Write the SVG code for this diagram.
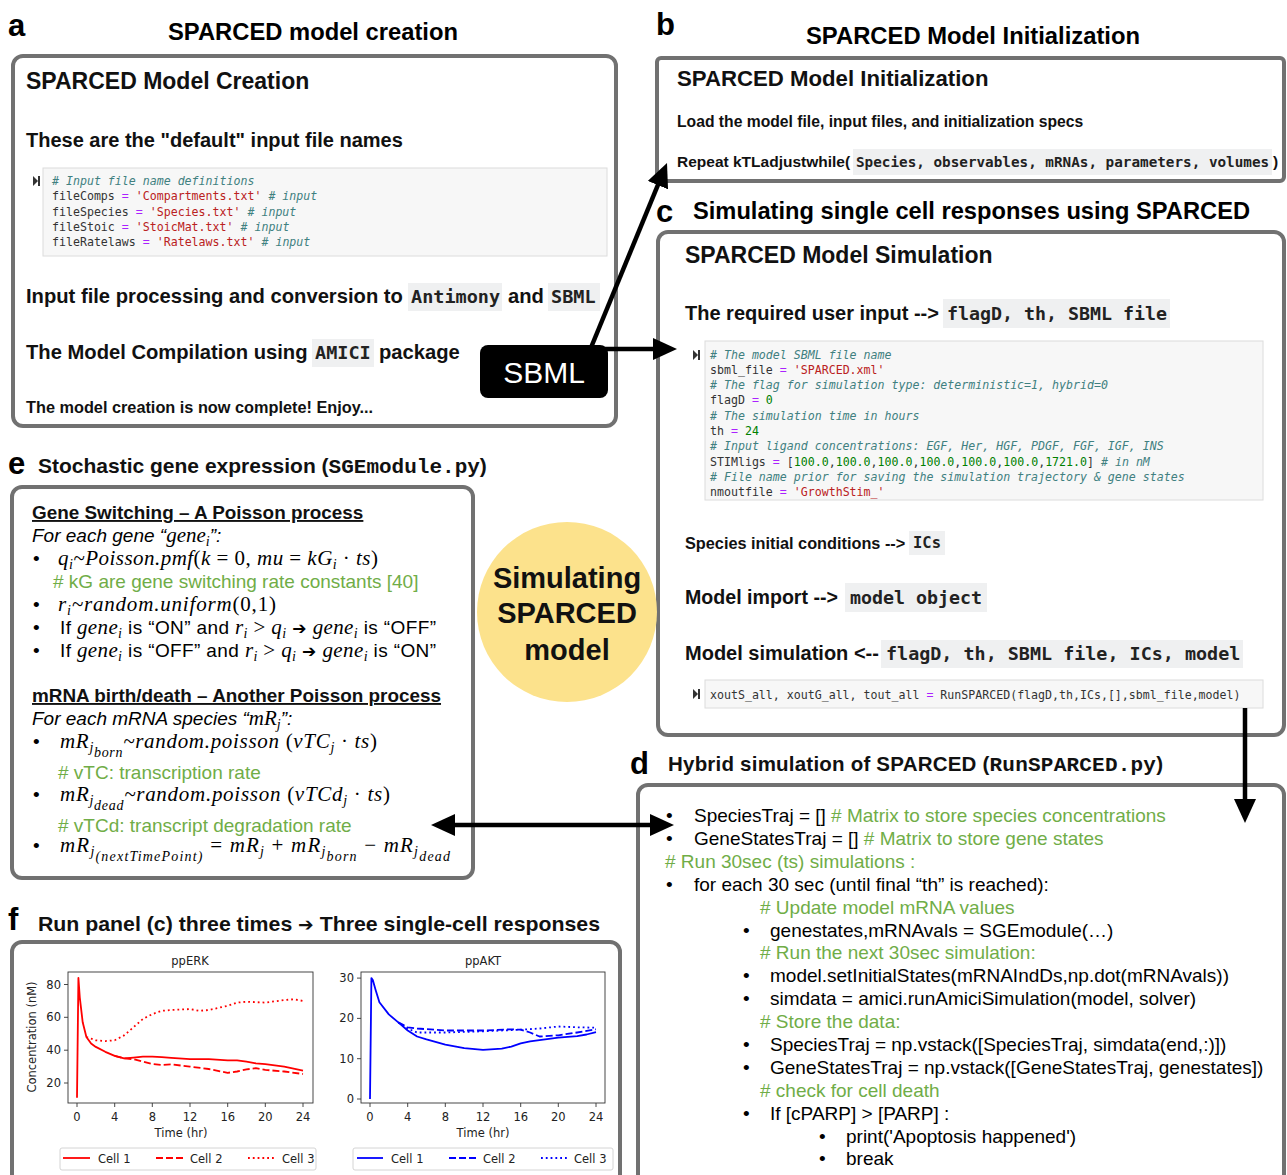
<svg xmlns="http://www.w3.org/2000/svg" width="1287" height="1175" viewBox="0 0 1287 1175">
<style>
.panel{fill:#fff;stroke:#717171;stroke-width:4}
.lbl{font-family:"Liberation Sans",Arial,sans-serif;font-weight:bold;font-size:31px;fill:#000}
.ttl{font-family:"Liberation Sans",Arial,sans-serif;font-weight:bold;font-size:23.3px;fill:#000}
.h{font-family:"Liberation Sans",Arial,sans-serif;font-weight:bold;fill:#111}
.t{font-family:"Liberation Sans",Arial,sans-serif;font-size:19px;fill:#000}
.g{fill:#70AD47}
.ic{fill:#eff0f1}
.im{font-family:"DejaVu Sans Mono","Liberation Mono",monospace;font-weight:bold;fill:#222}
.mono2{font-family:"Liberation Mono","Courier New",monospace;font-weight:bold}
.cb{fill:#f7f7f7;stroke:#dcdcdc;stroke-width:1}
.code{font-family:"DejaVu Sans Mono","Liberation Mono",monospace;fill:#333;font-size:11.6px}
.cm{fill:#408080;font-style:italic}
.op{fill:#AA22FF}
.st{fill:#BA2121}
.nu{fill:#008000}
.m{font-family:"Liberation Serif","Times New Roman",serif;font-style:italic;font-size:21px}
.up{font-style:normal}
.sub{font-size:14px}
.arr{font-family:"DejaVu Sans",sans-serif;font-style:normal;font-size:17px}
.ax{fill:none;stroke:#333;stroke-width:0.9}
.tk{font-family:"DejaVu Sans",sans-serif;font-size:11.5px;fill:#222}
.leg{fill:#fff;stroke:#cfcfcf;stroke-width:0.9}
.conn{stroke:#000;stroke-width:4.5;fill:none}
</style>
<defs>
<marker id="ah" viewBox="0 0 24 22" markerWidth="24" markerHeight="22" refX="14" refY="11" markerUnits="userSpaceOnUse" orient="auto-start-reverse">
<path d="M0,0 L24,11 L0,22 Z" fill="#000"/>
</marker>
<g id="runicon"><path d="M0,0 L5,5 L0,10 Z" fill="#333"/><rect x="5" y="0" width="2" height="10" fill="#333"/></g>
</defs>
<rect width="1287" height="1175" fill="#fff"/>

<!-- Panel a -->
<g id="panel-a">
<text class="lbl" x="8" y="36">a</text>
<text class="ttl" x="168" y="40" textLength="290" lengthAdjust="spacingAndGlyphs">SPARCED model creation</text>
<rect class="panel" x="13" y="56" width="603" height="370" rx="10"/>
<text class="h" x="26" y="89" font-size="23px">SPARCED Model Creation</text>
<text class="h" x="26" y="147" font-size="20px">These are the "default" input file names</text>
<rect class="cb" x="43" y="168" width="564" height="88"/>
<use href="#runicon" x="33" y="176"/>
<text class="code cm" x="52" y="185">#&#160;Input file name definitions</text>
<text class="code" x="52" y="200">fileComps <tspan class="op">=</tspan> <tspan class="st">'Compartments.txt'</tspan> <tspan class="cm"># input</tspan></text>
<text class="code" x="52" y="216">fileSpecies <tspan class="op">=</tspan> <tspan class="st">'Species.txt'</tspan> <tspan class="cm"># input</tspan></text>
<text class="code" x="52" y="231">fileStoic <tspan class="op">=</tspan> <tspan class="st">'StoicMat.txt'</tspan> <tspan class="cm"># input</tspan></text>
<text class="code" x="52" y="246">fileRatelaws <tspan class="op">=</tspan> <tspan class="st">'Ratelaws.txt'</tspan> <tspan class="cm"># input</tspan></text>
<text class="h" x="26" y="303" font-size="20.2px">Input file processing and conversion to</text>
<rect class="ic" x="408" y="283" width="94" height="28"/>
<text class="im" x="411" y="303" font-size="18.5px">Antimony</text>
<text class="h" x="508" y="303" font-size="20.2px">and</text>
<rect class="ic" x="548" y="283" width="52" height="28"/>
<text class="im" x="551" y="303" font-size="18.5px">SBML</text>
<text class="h" x="26" y="359" font-size="20.2px">The Model Compilation using</text>
<rect class="ic" x="312" y="339" width="62" height="28"/>
<text class="im" x="315" y="359" font-size="18.5px">AMICI</text>
<text class="h" x="379" y="359" font-size="20.2px">package</text>
<text class="h" x="26" y="413" font-size="16.3px">The model creation is now complete! Enjoy...</text>
</g>

<!-- Panel b -->
<g id="panel-b">
<text class="lbl" x="656" y="35">b</text>
<text class="ttl" x="806" y="44" textLength="334" lengthAdjust="spacingAndGlyphs">SPARCED Model Initialization</text>
<rect class="panel" x="657" y="58" width="627" height="123" rx="4"/>
<text class="h" x="677" y="86" font-size="22.2px">SPARCED Model Initialization</text>
<text class="h" x="677" y="127" font-size="15.7px">Load the model file, input files, and initialization specs</text>
<text class="h" x="677" y="167" font-size="15.5px">Repeat kTLadjustwhile(</text>
<rect class="ic" x="853" y="149" width="419" height="26"/>
<text class="im" x="856" y="167" font-size="14.3px">Species, observables, mRNAs, parameters, volumes</text>
<text class="h" x="1273" y="167" font-size="15.5px">)</text>
</g>

<!-- Panel c -->
<g id="panel-c">
<text class="lbl" x="656" y="222">c</text>
<text class="ttl" x="693" y="219" textLength="557" lengthAdjust="spacingAndGlyphs">Simulating single cell responses using SPARCED</text>
<rect class="panel" x="658" y="232" width="626" height="503" rx="10"/>
<text class="h" x="685" y="263" font-size="23px">SPARCED Model Simulation</text>
<text class="h" x="685" y="320" font-size="20px">The required user input --&gt;</text>
<rect class="ic" x="943" y="299" width="227" height="29"/>
<text class="im" x="947" y="320" font-size="18.3px">flagD, th, SBML file</text>
<rect class="cb" x="705" y="341" width="558" height="159"/>
<use href="#runicon" x="693" y="350"/>
<text class="code cm" x="710" y="359"># The model SBML file name</text>
<text class="code" x="710" y="374">sbml_file <tspan class="op">=</tspan> <tspan class="st">'SPARCED.xml'</tspan></text>
<text class="code cm" x="710" y="389"># The flag for simulation type: deterministic=1, hybrid=0</text>
<text class="code" x="710" y="404">flagD <tspan class="op">=</tspan> <tspan class="nu">0</tspan></text>
<text class="code cm" x="710" y="420"># The simulation time in hours</text>
<text class="code" x="710" y="435">th <tspan class="op">=</tspan> <tspan class="nu">24</tspan></text>
<text class="code cm" x="710" y="450"># Input ligand concentrations: EGF, Her, HGF, PDGF, FGF, IGF, INS</text>
<text class="code" x="710" y="466">STIMligs <tspan class="op">=</tspan> [<tspan class="nu">100.0</tspan>,<tspan class="nu">100.0</tspan>,<tspan class="nu">100.0</tspan>,<tspan class="nu">100.0</tspan>,<tspan class="nu">100.0</tspan>,<tspan class="nu">100.0</tspan>,<tspan class="nu">1721.0</tspan>] <tspan class="cm"># in nM</tspan></text>
<text class="code cm" x="710" y="481"># File name prior for saving the simulation trajectory &amp; gene states</text>
<text class="code" x="710" y="496">nmoutfile <tspan class="op">=</tspan> <tspan class="st">'GrowthStim_'</tspan></text>
<text class="h" x="685" y="549" font-size="16.3px">Species initial conditions --&gt;</text>
<rect class="ic" x="909" y="531" width="36" height="24"/>
<text class="im" x="913" y="548" font-size="15.5px">ICs</text>
<text class="h" x="685" y="604" font-size="19.6px">Model import --&gt;</text>
<rect class="ic" x="845" y="583" width="142" height="29"/>
<text class="im" x="850" y="604" font-size="18.3px">model object</text>
<text class="h" x="685" y="660" font-size="20px">Model simulation &lt;--</text>
<rect class="ic" x="881" y="640" width="362" height="28"/>
<text class="im" x="886" y="660" font-size="18.4px">flagD, th, SBML file, ICs, model</text>
<rect class="cb" x="705" y="680" width="558" height="28"/>
<use href="#runicon" x="693" y="689"/>
<text class="code" x="710" y="699">xoutS_all, xoutG_all, tout_all <tspan class="op">=</tspan> RunSPARCED(flagD,th,ICs,[],sbml_file,model)</text>
</g>

<!-- Panel d -->
<g id="panel-d">
<text class="lbl" x="630" y="774">d</text>
<text class="h" x="668" y="771" font-size="20.5px" textLength="495" lengthAdjust="spacing">Hybrid simulation of SPARCED (<tspan class="mono2" font-size="21px">RunSPARCED.py</tspan>)</text>
<rect class="panel" x="638" y="785" width="646" height="410" rx="10"/>
<g class="t">
<text x="666" y="822">•</text><text x="694" y="822">SpeciesTraj = [] <tspan class="g"># Matrix to store species concentrations</tspan></text>
<text x="666" y="845">•</text><text x="694" y="845">GeneStatesTraj = [] <tspan class="g"># Matrix to store gene states</tspan></text>
<text x="665" y="868" class="g"># Run 30sec (ts) simulations :</text>
<text x="666" y="891">•</text><text x="694" y="891">for each 30 sec (until final “th” is reached):</text>
<text x="760" y="914" class="g"># Update model mRNA values</text>
<text x="743" y="937">•</text><text x="770" y="937">genestates,mRNAvals = SGEmodule(…)</text>
<text x="760" y="959" class="g"># Run the next 30sec simulation:</text>
<text x="743" y="982">•</text><text x="770" y="982">model.setInitialStates(mRNAIndDs,np.dot(mRNAvals))</text>
<text x="743" y="1005">•</text><text x="770" y="1005">simdata = amici.runAmiciSimulation(model, solver)</text>
<text x="760" y="1028" class="g"># Store the data:</text>
<text x="743" y="1051">•</text><text x="770" y="1051">SpeciesTraj = np.vstack([SpeciesTraj, simdata(end,:)])</text>
<text x="743" y="1074">•</text><text x="770" y="1074">GeneStatesTraj = np.vstack([GeneStatesTraj, genestates])</text>
<text x="760" y="1097" class="g"># check for cell death</text>
<text x="743" y="1120">•</text><text x="770" y="1120">If [cPARP] &gt; [PARP] :</text>
<text x="819" y="1143">•</text><text x="846" y="1143">print('Apoptosis happened')</text>
<text x="819" y="1165">•</text><text x="846" y="1165">break</text>
</g>
</g>

<!-- Panel e -->
<g id="panel-e">
<text class="lbl" x="8" y="474">e</text>
<text class="h" x="38" y="473" font-size="21px">Stochastic gene expression (<tspan class="mono2" font-size="21px">SGEmodule.py</tspan>)</text>
<rect class="panel" x="12" y="487" width="461" height="391" rx="10"/>
<text class="h" x="32" y="519" font-size="18.9px" text-decoration="underline">Gene Switching – A Poisson process</text>
<text class="t" x="32" y="542" font-style="italic">For each gene “<tspan class="m">gene<tspan class="sub" dy="4">i</tspan></tspan><tspan dy="-4">”:</tspan></text>
<text class="t" x="33" y="565">•</text>
<text class="m" x="58" y="565" textLength="320" lengthAdjust="spacing">q<tspan class="sub" dy="4">i</tspan><tspan dy="-4">~Poisson.pmf</tspan><tspan class="up">(</tspan>k <tspan class="up">= 0, </tspan>mu <tspan class="up">= </tspan>kG<tspan class="sub" dy="4">i</tspan><tspan class="up" dy="-4"> · </tspan>ts<tspan class="up">)</tspan></text>
<text class="t g" x="53" y="588">#&#160;kG are gene switching rate constants [40]</text>
<text class="t" x="33" y="611">•</text>
<text class="m" x="58" y="611" textLength="218" lengthAdjust="spacing">r<tspan class="sub" dy="4">i</tspan><tspan dy="-4">~random.uniform</tspan><tspan class="up">(0,1)</tspan></text>
<text class="t" x="33" y="634">•</text>
<text class="t" x="60" y="634" textLength="376" lengthAdjust="spacing">If <tspan class="m">gene<tspan class="sub" dy="4">i</tspan></tspan><tspan dy="-4"> is “ON” and </tspan><tspan class="m">r<tspan class="sub" dy="4">i</tspan><tspan class="up" dy="-4"> &gt; </tspan>q<tspan class="sub" dy="4">i</tspan></tspan><tspan dy="-4" class="arr"> ➔ </tspan><tspan class="m">gene<tspan class="sub" dy="4">i</tspan></tspan><tspan dy="-4"> is “OFF”</tspan></text>
<text class="t" x="33" y="657">•</text>
<text class="t" x="60" y="657" textLength="376" lengthAdjust="spacing">If <tspan class="m">gene<tspan class="sub" dy="4">i</tspan></tspan><tspan dy="-4"> is “OFF” and </tspan><tspan class="m">r<tspan class="sub" dy="4">i</tspan><tspan class="up" dy="-4"> &gt; </tspan>q<tspan class="sub" dy="4">i</tspan></tspan><tspan dy="-4" class="arr"> ➔ </tspan><tspan class="m">gene<tspan class="sub" dy="4">i</tspan></tspan><tspan dy="-4"> is “ON”</tspan></text>
<text class="h" x="32" y="702" font-size="18.9px" text-decoration="underline">mRNA birth/death – Another Poisson process</text>
<text class="t" x="32" y="725" font-style="italic">For each mRNA species “<tspan class="m">mR<tspan class="sub" dy="4">j</tspan></tspan><tspan dy="-4">”:</tspan></text>
<text class="t" x="33" y="748">•</text>
<text class="m" x="60" y="748" textLength="317" lengthAdjust="spacing">mR<tspan class="sub" dy="4">j</tspan><tspan class="sub" dy="5">born</tspan><tspan dy="-9">~random.poisson </tspan><tspan class="up">(</tspan>vTC<tspan class="sub" dy="4">j</tspan><tspan class="up" dy="-4"> · </tspan>ts<tspan class="up">)</tspan></text>
<text class="t g" x="58" y="779">#&#160;vTC: transcription rate</text>
<text class="t" x="33" y="801">•</text>
<text class="m" x="60" y="801" textLength="330" lengthAdjust="spacing">mR<tspan class="sub" dy="4">j</tspan><tspan class="sub" dy="5">dead</tspan><tspan dy="-9">~random.poisson </tspan><tspan class="up">(</tspan>vTCd<tspan class="sub" dy="4">j</tspan><tspan class="up" dy="-4"> · </tspan>ts<tspan class="up">)</tspan></text>
<text class="t g" x="58" y="832">#&#160;vTCd: transcript degradation rate</text>
<text class="t" x="33" y="852">•</text>
<text class="m" x="60" y="852" textLength="390" lengthAdjust="spacing">mR<tspan class="sub" dy="4">j</tspan><tspan class="sub" dy="5">(nextTimePoint)</tspan><tspan class="up" dy="-9"> = </tspan>mR<tspan class="sub" dy="4">j</tspan><tspan class="up" dy="-4"> + </tspan>mR<tspan class="sub" dy="4">j</tspan><tspan class="sub" dy="5">born</tspan><tspan class="up" dy="-9"> − </tspan>mR<tspan class="sub" dy="4">j</tspan><tspan class="sub" dy="5">dead</tspan></text>
</g>

<!-- Center circle -->
<g id="sim-circle">
<circle cx="567" cy="612" r="90" fill="#FCE28C"/>
<text class="h" x="567" y="588" font-size="29px" text-anchor="middle">Simulating</text>
<text class="h" x="567" y="623" font-size="29px" text-anchor="middle">SPARCED</text>
<text class="h" x="567" y="660" font-size="29px" text-anchor="middle">model</text>
</g>

<!-- Panel f -->
<g id="panel-f">
<text class="lbl" x="8" y="930">f</text>
<text class="h" x="38" y="931" font-size="20.5px" textLength="562" lengthAdjust="spacingAndGlyphs">Run panel (c) three times <tspan font-family="DejaVu Sans,sans-serif" font-weight="normal" font-size="18px">➔</tspan> Three single-cell responses</text>
<rect class="panel" x="12" y="942" width="608" height="250" rx="10"/>
<!-- ppERK -->
<g id="plot-ppERK">
<text class="tk" x="190" y="965" text-anchor="middle" font-size="12.5px">ppERK</text>
<rect class="ax" x="68" y="972" width="245" height="131"/>
<g stroke="#333" stroke-width="0.9">
<line x1="77" y1="1103" x2="77" y2="1107"/><line x1="114.7" y1="1103" x2="114.7" y2="1107"/><line x1="152.3" y1="1103" x2="152.3" y2="1107"/><line x1="190" y1="1103" x2="190" y2="1107"/><line x1="227.7" y1="1103" x2="227.7" y2="1107"/><line x1="265.3" y1="1103" x2="265.3" y2="1107"/><line x1="303" y1="1103" x2="303" y2="1107"/>
<line x1="64" y1="984.5" x2="68" y2="984.5"/><line x1="64" y1="1017.3" x2="68" y2="1017.3"/><line x1="64" y1="1050.2" x2="68" y2="1050.2"/><line x1="64" y1="1083" x2="68" y2="1083"/>
</g>
<g class="tk" text-anchor="middle">
<text x="77" y="1121">0</text><text x="114.7" y="1121">4</text><text x="152.3" y="1121">8</text><text x="190" y="1121">12</text><text x="227.7" y="1121">16</text><text x="265.3" y="1121">20</text><text x="303" y="1121">24</text>
<text x="181" y="1137">Time (hr)</text>
</g>
<g class="tk" text-anchor="end">
<text x="61" y="988.5">80</text><text x="61" y="1021.3">60</text><text x="61" y="1054.2">40</text><text x="61" y="1087">20</text>
</g>
<text class="tk" transform="translate(36,1037) rotate(-90)" text-anchor="middle">Concentration (nM)</text>
<g fill="none" stroke="#ff0000" stroke-width="1.8" stroke-linejoin="round">
<polyline points="77,1097.8 78.4,977.9 79.8,997.6 82.7,1022.3 86.4,1037 91.1,1043.6 95.8,1046.9 105.3,1051.8 114.7,1055.9 124.1,1058.4 133.5,1057.6 142.9,1056.7 152.3,1056.7 161.8,1057.1 171.2,1057.9 190,1059.2 208.8,1059.2 227.7,1060.3 237.1,1060.3 246.5,1061.7 255.9,1063.3 265.3,1064.1 284.2,1066.6 303,1070.7"/>
<polyline stroke-dasharray="7,3" points="114.7,1055.9 124.1,1058.4 133.5,1059.2 142.9,1061.7 152.3,1064.1 161.8,1064.9 171.2,1064.4 190,1066.6 208.8,1069 227.7,1072.8 237.1,1071.5 246.5,1069.4 255.9,1068.2 265.3,1069.9 284.2,1071.5 303,1074"/>
<polyline stroke-dasharray="1.8,3" points="86.4,1037 91.1,1038.7 95.8,1040.3 105.3,1041.1 114.7,1040.3 124.1,1035.4 133.5,1027.2 142.9,1019 152.3,1014.1 161.8,1010.8 171.2,1010 190,1009.1 199.4,1010.8 208.8,1010 227.7,1005.8 237.1,1002.6 246.5,1001.7 265.3,1002.6 284.2,1000.1 293.6,999.3 303,1000.9"/>
</g>
<rect class="leg" x="60" y="1148" width="256" height="22" rx="2"/>
<g stroke="#ff0000" stroke-width="1.8">
<line x1="63" y1="1158" x2="90" y2="1158"/>
<line x1="156" y1="1158" x2="186" y2="1158" stroke-dasharray="7,3"/>
<line x1="248" y1="1158" x2="276" y2="1158" stroke-dasharray="1.8,3"/>
</g>
<g class="tk"><text x="98" y="1163">Cell 1</text><text x="190" y="1163">Cell 2</text><text x="282" y="1163">Cell 3</text></g>
</g>
<!-- ppAKT -->
<g id="plot-ppAKT">
<text class="tk" x="483" y="965" text-anchor="middle" font-size="12.5px">ppAKT</text>
<rect class="ax" x="361" y="972" width="244" height="131"/>
<g stroke="#333" stroke-width="0.9">
<line x1="370" y1="1103" x2="370" y2="1107"/><line x1="407.7" y1="1103" x2="407.7" y2="1107"/><line x1="445.3" y1="1103" x2="445.3" y2="1107"/><line x1="483" y1="1103" x2="483" y2="1107"/><line x1="520.7" y1="1103" x2="520.7" y2="1107"/><line x1="558.3" y1="1103" x2="558.3" y2="1107"/><line x1="596" y1="1103" x2="596" y2="1107"/>
<line x1="357" y1="978.1" x2="361" y2="978.1"/><line x1="357" y1="1018.4" x2="361" y2="1018.4"/><line x1="357" y1="1058.7" x2="361" y2="1058.7"/><line x1="357" y1="1099" x2="361" y2="1099"/>
</g>
<g class="tk" text-anchor="middle">
<text x="370" y="1121">0</text><text x="407.7" y="1121">4</text><text x="445.3" y="1121">8</text><text x="483" y="1121">12</text><text x="520.7" y="1121">16</text><text x="558.3" y="1121">20</text><text x="596" y="1121">24</text>
<text x="483" y="1137">Time (hr)</text>
</g>
<g class="tk" text-anchor="end">
<text x="354" y="982.1">30</text><text x="354" y="1022.4">20</text><text x="354" y="1062.7">10</text><text x="354" y="1103">0</text>
</g>
<g fill="none" stroke="#0000ff" stroke-width="1.8" stroke-linejoin="round">
<polyline points="370,1099 371.4,978.1 372.8,980.1 375.7,990.2 379.4,1002.3 388.8,1014.4 398.3,1022.4 407.7,1030.5 417.1,1036.5 426.5,1039.4 445.3,1044.6 464.2,1048.2 483,1049.8 501.8,1048.6 511.3,1046.6 520.7,1043.4 530.1,1041.4 539.5,1040.2 558.3,1037.7 577.2,1036.1 586.6,1034.5 596,1032.1"/>
<polyline stroke-dasharray="7,3" points="398.3,1022.4 407.7,1027.3 417.1,1028.5 445.3,1030.5 483,1030.5 511.3,1029.3 520.7,1029.7 530.1,1032.5 539.5,1036.5 558.3,1035.3 577.2,1032.5 596,1029.3"/>
<polyline stroke-dasharray="1.8,3" points="398.3,1022.4 407.7,1028.5 417.1,1032.5 445.3,1032.5 483,1031.3 520.7,1029.7 539.5,1028.5 558.3,1026.5 577.2,1027.3 596,1027.7"/>
</g>
<rect class="leg" x="353" y="1148" width="260" height="22" rx="2"/>
<g stroke="#0000ff" stroke-width="1.8">
<line x1="357" y1="1158" x2="383" y2="1158"/>
<line x1="449" y1="1158" x2="479" y2="1158" stroke-dasharray="7,3"/>
<line x1="541" y1="1158" x2="569" y2="1158" stroke-dasharray="1.8,3"/>
</g>
<g class="tk"><text x="391" y="1163">Cell 1</text><text x="483" y="1163">Cell 2</text><text x="574" y="1163">Cell 3</text></g>
</g>
</g>

<!-- Connectors -->
<g id="connectors">
<line class="conn" x1="590" y1="350" x2="663.2" y2="172.2" marker-end="url(#ah)"/>
<line class="conn" x1="590" y1="349" x2="667" y2="349" marker-end="url(#ah)"/>
<line class="conn" x1="1245" y1="708" x2="1245" y2="813" marker-end="url(#ah)"/>
<line class="conn" x1="441" y1="825" x2="664" y2="825" marker-start="url(#ah)" marker-end="url(#ah)"/>
</g>

<!-- SBML node -->
<g id="sbml-node">
<rect x="480" y="345" width="128" height="53" rx="8" fill="#000"/>
<text x="544" y="383" font-family="Liberation Sans,Arial,sans-serif" font-size="30px" fill="#fff" text-anchor="middle">SBML</text>
</g>
</svg>
